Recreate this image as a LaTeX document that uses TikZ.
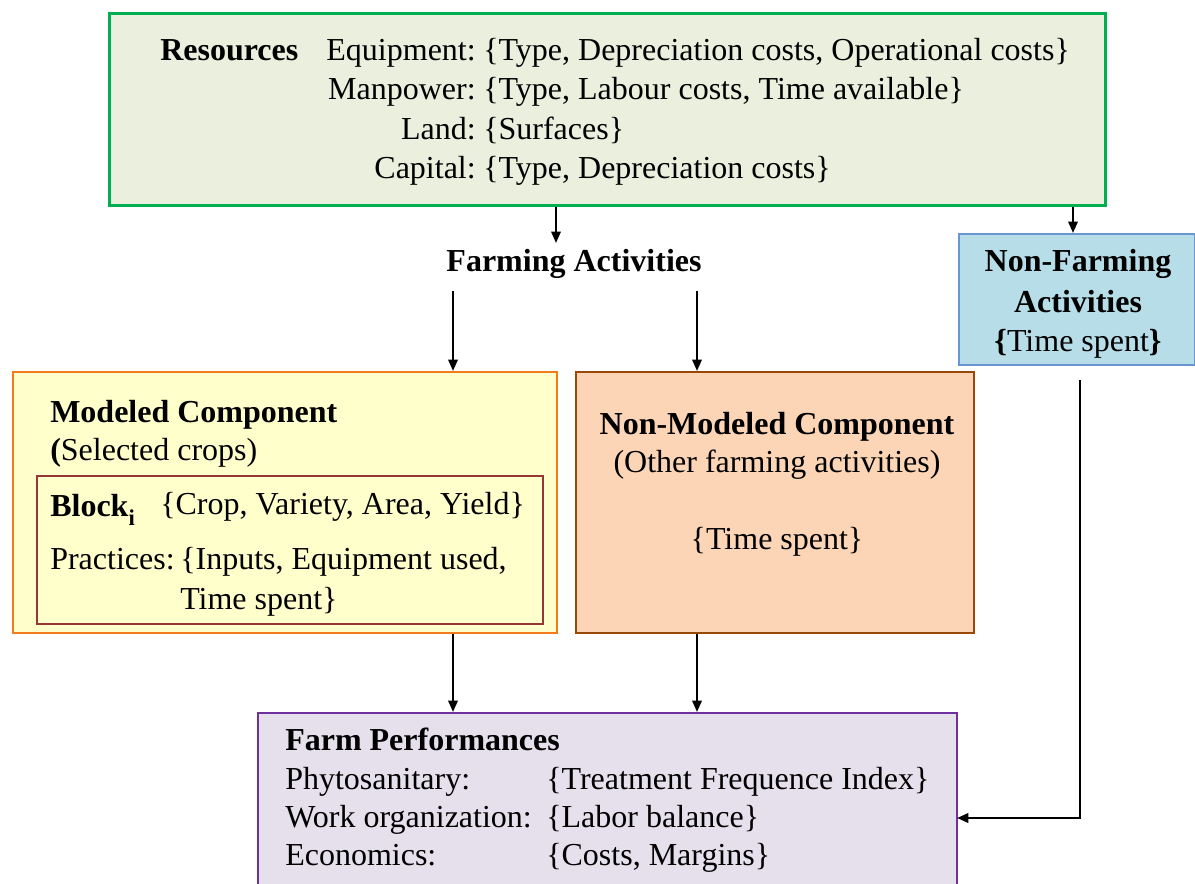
\documentclass[tikz,border=0pt]{standalone}
\usepackage{fontspec}
\setmainfont{Liberation Serif}
\usetikzlibrary{arrows.meta}
\definecolor{resfill}{HTML}{EBF0DE}
\definecolor{resdraw}{HTML}{00B050}
\definecolor{nffill}{HTML}{B7DEE8}
\definecolor{nfdraw}{HTML}{6A96CF}
\definecolor{modfill}{HTML}{FFFFCC}
\definecolor{moddraw}{HTML}{F07C1E}
\definecolor{blkdraw}{HTML}{953735}
\definecolor{nmfill}{HTML}{FBD5B5}
\definecolor{nmdraw}{HTML}{984807}
\definecolor{pffill}{HTML}{E5E0EC}
\definecolor{pfdraw}{HTML}{7030A0}
\begin{document}
\begin{tikzpicture}[x=0.75pt,y=-0.75pt,
  box/.style={draw, line width=1.6pt, inner sep=0pt, anchor=north west},
  txt/.style={anchor=base west, inner sep=0pt, yshift=-1.5pt, font=\fontsize{24}{29}\selectfont},
  txtr/.style={anchor=base east, inner sep=0pt, yshift=-1.5pt, font=\fontsize{24}{29}\selectfont},
  txtc/.style={anchor=base, inner sep=0pt, yshift=-1.5pt, font=\fontsize{24}{29}\selectfont},
  arr/.style={line width=1.6pt, -{Triangle[length=8.5pt,width=7pt]}}
]
\useasboundingbox (0,0) rectangle (1195,884);

% boxes
\node[box, draw=resdraw, line width=2pt, fill=resfill, minimum width=747pt, minimum height=144pt] (res) at (108,12) {};
\node[box, draw=nfdraw, line width=1.2pt, fill=nffill, minimum width=177pt, minimum height=98.25pt] (nonfarm) at (958,233) {};
\node[box, draw=moddraw, fill=modfill, minimum width=408pt, minimum height=195.75pt] (model) at (12,371) {};
\node[box, draw=blkdraw, fill=modfill, minimum width=379.5pt, minimum height=111pt] (block) at (36,475) {};
\node[box, draw=nmdraw, fill=nmfill, minimum width=298.5pt, minimum height=195.75pt] (nonmod) at (575,371) {};
\node[box, draw=pfdraw, line width=1.2pt, fill=pffill, minimum width=524.25pt, minimum height=135pt] (perf) at (257,712) {};

% resources text
\node[txt] (resT) at (160,59) {\textbf{Resources}};
\node[txtr] (eqL) at (476,59) {Equipment:};
\node[txt] (eqV) at (483,59) {\{Type, Depreciation costs, Operational costs\}};
\node[txtr] (mpL) at (476,98) {Manpower:};
\node[txt] (mpV) at (483,98) {\{Type, Labour costs, Time available\}};
\node[txtr] (ldL) at (476,138) {Land:};
\node[txt] (ldV) at (483,138) {\{Surfaces\}};
\node[txtr] (cpL) at (476,177) {Capital:};
\node[txt] (cpV) at (483,177) {\{Type, Depreciation costs\}};

% farming activities
\node[txtc] (fa) at (574,270) {\textbf{Farming Activities}};

% non-farming
\node[txtc] (nf1T) at (1078,270) {\textbf{Non-Farming}};
\node[txtc] (nf2T) at (1078,310) {\textbf{Activities}};
\node[txtc] (nf3T) at (1078,349) {\textbf{\{}Time spent\textbf{\}}};

% modeled component
\node[txt] (mcT) at (50,420) {\textbf{Modeled Component}};
\node[txt] (mcS) at (50,458) {\textbf{(}Selected crops)};
\node[txt] (blkT) at (50,514) {\textbf{Block}\raisebox{-0.3em}{\fontsize{17}{17}\selectfont\bfseries i}};
\node[txt] (blkV) at (160,512) {\{Crop, Variety, Area, Yield\}};
\node[txt] (prL) at (50,567) {Practices:};
\node[txt] (prV1) at (180,567) {\{Inputs, Equipment used,};
\node[txt] (prV2) at (180,607) {Time spent\}};

% non-modeled component
\node[txtc] (nmT) at (777,432) {\textbf{Non-Modeled Component}};
\node[txtc] (nmS) at (777,470) {(Other farming activities)};
\node[txtc] (nmV) at (777,547) {\{Time spent\}};

% farm performances
\node[txt] (pfT) at (285,748) {\textbf{Farm Performances}};
\node[txt] (phL) at (285,787) {Phytosanitary:};
\node[txt] (phV) at (546,787) {\{Treatment Frequence Index\}};
\node[txt] (woL) at (285,825) {Work organization:};
\node[txt] (woV) at (546,825) {\{Labor balance\}};
\node[txt] (ecL) at (285,863) {Economics:};
\node[txt] (ecV) at (546,863) {\{Costs, Margins\}};

% connector coordinates
\coordinate (faIn) at (556,243);
\coordinate (nfx) at (1073,0);
\coordinate (fa1) at (453,291);
\coordinate (fa2) at (697,291);
\coordinate (nfout) at (1080,380);
\coordinate (pfin) at (957,818);

% connectors
\draw[arr] (res.south -| faIn) -- (faIn);
\draw[arr] (res.south -| nfx) -- (nonfarm.north -| nfx);
\draw[arr] (fa1) -- (model.north -| fa1);
\draw[arr] (fa2) -- (nonmod.north -| fa2);
\draw[arr] (model.south -| fa1) -- (perf.north -| fa1);
\draw[arr] (nonmod.south -| fa2) -- (perf.north -| fa2);
\draw[arr, line width=2pt] (nfout) |- (pfin);
\end{tikzpicture}
\end{document}
